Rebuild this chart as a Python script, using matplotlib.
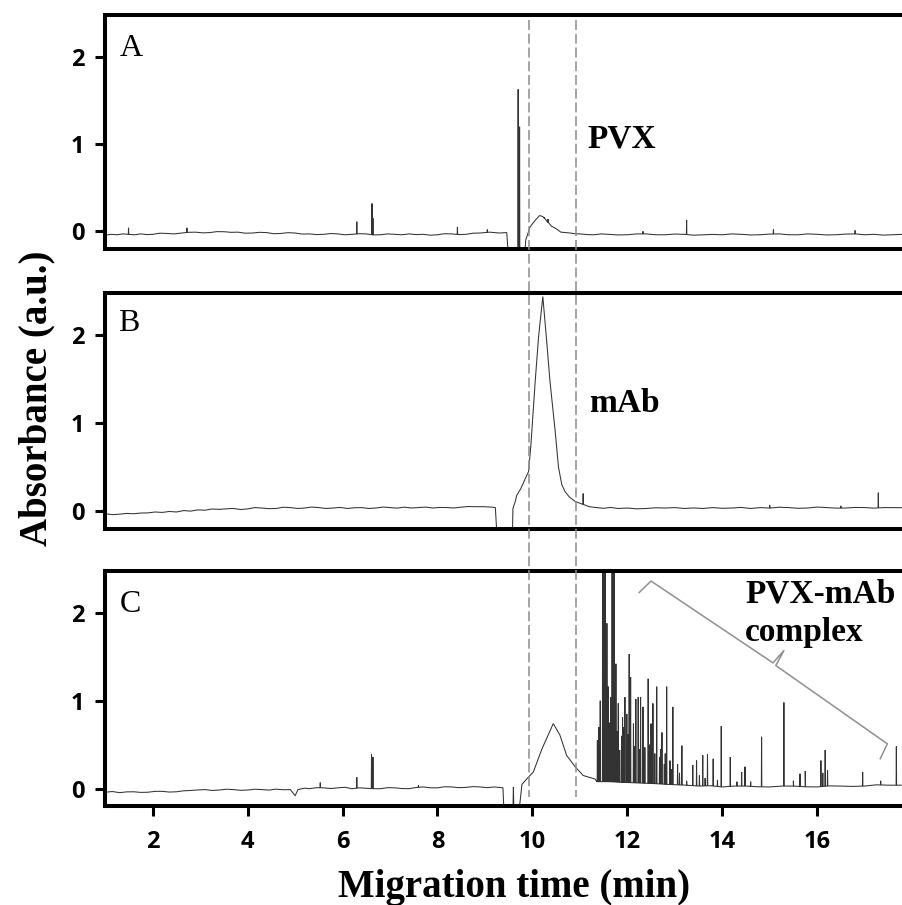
import matplotlib
matplotlib.use('Agg')
import matplotlib.pyplot as plt
import numpy as np
from matplotlib.lines import Line2D
from matplotlib.transforms import blended_transform_factory

# traces are (migration time in min, absorbance) pairs

# ---- panel A: PVX ----
pvx_trace = [
    (1.00, -0.045), (1.12, -0.035), (1.25, -0.040), (1.37, -0.030), (1.48, -0.035),
    (1.62, -0.040), (1.75, -0.030), (1.88, -0.038), (2.00, -0.035), (2.15, -0.022),
    (2.30, -0.025), (2.45, -0.030), (2.60, -0.020), (2.75, -0.012), (2.90, -0.010),
    (3.05, -0.018), (3.20, -0.015), (3.35, -0.004), (3.50, -0.005), (3.65, -0.012),
    (3.80, -0.010), (3.95, -0.022), (4.10, -0.020), (4.25, -0.012), (4.40, -0.015),
    (4.55, -0.028), (4.70, -0.025), (4.85, -0.016), (5.00, -0.020), (5.15, -0.032),
    (5.30, -0.030), (5.45, -0.038), (5.60, -0.035), (5.75, -0.026), (5.90, -0.030),
    (6.05, -0.040), (6.20, -0.035), (6.35, -0.028), (6.50, -0.030), (6.65, -0.042),
    (6.80, -0.040), (6.95, -0.030), (7.10, -0.035), (7.25, -0.040), (7.40, -0.030),
    (7.55, -0.038), (7.70, -0.035), (7.85, -0.045), (8.00, -0.040), (8.15, -0.028),
    (8.30, -0.030), (8.45, -0.038), (8.60, -0.035), (8.75, -0.022), (8.90, -0.020),
    (9.10, -0.010), (9.30, -0.020), (9.46, -0.015), (9.49, -0.250), (9.84, -0.250),
    (9.86, -0.100), (9.95, 0.050), (10.05, 0.120), (10.15, 0.180), (10.22, 0.170),
    (10.30, 0.120), (10.40, 0.060), (10.50, 0.030), (10.60, -0.010), (10.70, -0.015),
    (10.80, -0.020), (10.90, -0.028), (11.00, -0.030), (11.15, -0.038), (11.30, -0.040),
    (11.45, -0.030), (11.60, -0.035), (11.80, -0.042), (12.00, -0.040), (12.20, -0.030),
    (12.40, -0.030), (12.60, -0.040), (12.80, -0.040), (13.00, -0.032), (13.20, -0.035),
    (13.40, -0.045), (13.60, -0.040), (13.80, -0.036), (14.00, -0.040), (14.20, -0.030),
    (14.40, -0.035), (14.60, -0.042), (14.80, -0.040), (15.00, -0.032), (15.20, -0.030),
    (15.40, -0.040), (15.60, -0.040), (15.80, -0.030), (16.00, -0.035), (16.20, -0.042),
    (16.40, -0.040), (16.60, -0.032), (16.80, -0.030), (17.00, -0.040), (17.20, -0.035),
    (17.40, -0.044), (17.60, -0.040), (17.81, -0.035),
]
pvx_spikes = [
    (1.49, 0.04), (2.72, 0.04), (6.30, 0.11), (6.62, 0.32), (6.64, 0.15), (8.42, 0.05),
    (9.05, 0.02), (9.70, 1.63), (9.73, 1.20), (10.25, 0.16), (10.33, 0.14), (12.33, 0.00),
    (13.25, 0.13), (15.08, 0.02), (16.80, 0.01),
]

# ---- panel B: mAb ----
mab_trace = [
    (1.00, -0.030), (1.15, -0.040), (1.30, -0.035), (1.45, -0.026), (1.60, -0.030),
    (1.75, -0.022), (1.90, -0.020), (2.05, -0.010), (2.20, -0.015), (2.35, -0.004),
    (2.50, -0.010), (2.65, 0.006), (2.80, 0.000), (2.95, 0.014), (3.10, 0.010),
    (3.25, 0.024), (3.40, 0.020), (3.55, 0.026), (3.70, 0.030), (3.85, 0.018),
    (4.00, 0.025), (4.15, 0.040), (4.30, 0.035), (4.45, 0.028), (4.60, 0.030),
    (4.75, 0.044), (4.90, 0.040), (5.05, 0.030), (5.20, 0.035), (5.35, 0.046),
    (5.50, 0.040), (5.65, 0.030), (5.80, 0.035), (5.95, 0.042), (6.10, 0.030),
    (6.25, 0.038), (6.40, 0.040), (6.55, 0.030), (6.70, 0.035), (6.85, 0.046),
    (7.00, 0.040), (7.15, 0.034), (7.30, 0.045), (7.45, 0.036), (7.60, 0.040),
    (7.75, 0.046), (7.90, 0.035), (8.05, 0.042), (8.20, 0.040), (8.35, 0.036),
    (8.50, 0.045), (8.65, 0.052), (8.80, 0.050), (9.00, 0.050), (9.15, 0.045),
    (9.22, 0.040), (9.25, -0.250), (9.58, -0.250), (9.59, 0.030), (9.64, 0.110),
    (9.67, 0.180), (9.75, 0.250), (9.81, 0.320), (9.85, 0.370), (9.92, 0.450),
    (9.97, 0.760), (10.06, 1.480), (10.13, 1.980), (10.22, 2.440), (10.30, 1.940),
    (10.37, 1.480), (10.48, 0.910), (10.55, 0.500), (10.62, 0.300), (10.69, 0.220),
    (10.78, 0.160), (10.90, 0.110), (11.00, 0.090), (11.20, 0.050), (11.35, 0.040),
    (11.50, 0.032), (11.65, 0.042), (11.80, 0.030), (12.00, 0.035), (12.20, 0.026),
    (12.40, 0.030), (12.60, 0.038), (12.80, 0.035), (13.00, 0.040), (13.20, 0.030),
    (13.40, 0.036), (13.60, 0.030), (13.80, 0.040), (14.00, 0.032), (14.20, 0.035),
    (14.40, 0.042), (14.60, 0.030), (14.80, 0.040), (15.00, 0.035), (15.20, 0.044),
    (15.40, 0.040), (15.60, 0.032), (15.80, 0.035), (16.00, 0.046), (16.20, 0.040),
    (16.40, 0.034), (16.60, 0.035), (16.80, 0.042), (17.00, 0.040), (17.20, 0.034),
    (17.40, 0.040), (17.60, 0.040), (17.81, 0.038),
]
mab_spikes = [(11.07, 0.20), (15.00, 0.07), (16.50, 0.06), (17.29, 0.21)]

# ---- panel C: PVX-mAb complex ----
cpx_trace = [
    (1.00, -0.040), (1.15, -0.032), (1.30, -0.045), (1.45, -0.036), (1.60, -0.035),
    (1.75, -0.042), (1.90, -0.040), (2.05, -0.030), (2.20, -0.030), (2.35, -0.038),
    (2.50, -0.035), (2.65, -0.024), (2.80, -0.020), (2.95, -0.014), (3.10, -0.010),
    (3.25, -0.020), (3.40, -0.015), (3.55, -0.006), (3.70, -0.010), (3.85, -0.018),
    (4.00, -0.015), (4.15, -0.006), (4.30, -0.010), (4.45, -0.016), (4.60, -0.005),
    (4.75, -0.012), (4.90, -0.010), (5.00, -0.080), (5.06, -0.010), (5.20, 0.006),
    (5.30, 0.000), (5.45, 0.012), (5.60, 0.010), (5.75, 0.002), (5.90, 0.010),
    (6.05, 0.016), (6.20, 0.000), (6.35, 0.010), (6.50, 0.005), (6.65, 0.000),
    (6.80, 0.000), (6.95, 0.012), (7.10, 0.010), (7.25, 0.002), (7.40, 0.000),
    (7.55, 0.014), (7.70, 0.020), (7.85, 0.010), (8.00, 0.010), (8.15, 0.022),
    (8.30, 0.020), (8.45, 0.012), (8.60, 0.015), (8.75, 0.024), (8.90, 0.020),
    (9.05, 0.012), (9.20, 0.020), (9.38, 0.010), (9.40, -0.250), (9.59, -0.250),
    (9.60, 0.020), (9.61, -0.250), (9.72, -0.250), (9.78, 0.050), (9.88, 0.110),
    (10.02, 0.190), (10.20, 0.450), (10.44, 0.740), (10.58, 0.610), (10.72, 0.380),
    (10.90, 0.250), (11.07, 0.150), (11.32, 0.110), (11.36, 0.080), (11.60, 0.080),
    (12.00, 0.070), (12.50, 0.060), (13.00, 0.045), (13.25, 0.040), (13.50, 0.030),
    (13.75, 0.034), (14.00, 0.020), (14.25, 0.030), (14.50, 0.030), (14.75, 0.022),
    (15.00, 0.020), (15.25, 0.030), (15.50, 0.030), (15.75, 0.022), (16.00, 0.020),
    (16.25, 0.032), (16.50, 0.030), (16.75, 0.026), (17.00, 0.030), (17.25, 0.044),
    (17.50, 0.040), (17.81, 0.040),
]
cpx_spikes = [
    (5.53, 0.07), (6.30, 0.13), (6.61, 0.39), (6.64, 0.36), (7.60, 0.04),
    (11.37, 0.55), (11.40, 0.70), (11.43, 1.00), (11.48, 2.70), (11.50, 2.70),
    (11.53, 2.70), (11.55, 0.90), (11.57, 1.88), (11.60, 1.16), (11.63, 0.75),
    (11.65, 1.04), (11.68, 2.70), (11.70, 2.70), (11.72, 2.70), (11.76, 1.42),
    (11.79, 0.65), (11.81, 0.97), (11.84, 0.44), (11.88, 0.60), (11.90, 0.81),
    (11.92, 0.70), (11.95, 1.04), (11.99, 0.85), (12.01, 0.62), (12.04, 1.53),
    (12.07, 1.27), (12.13, 0.74), (12.15, 0.48), (12.18, 1.02), (12.23, 1.04),
    (12.26, 0.45), (12.28, 1.04), (12.33, 0.93), (12.35, 0.40), (12.37, 0.47),
    (12.44, 1.25), (12.47, 0.50), (12.50, 0.74), (12.54, 0.97), (12.58, 0.40),
    (12.62, 1.16), (12.68, 0.36), (12.70, 0.45), (12.73, 0.64), (12.78, 0.28),
    (12.80, 0.40), (12.83, 1.16), (12.90, 0.32), (12.93, 0.22), (12.96, 0.93),
    (13.06, 0.28), (13.10, 0.18), (13.15, 0.49), (13.25, 0.09), (13.38, 0.27),
    (13.46, 0.32), (13.52, 0.15), (13.59, 0.38), (13.64, 0.12), (13.69, 0.39),
    (13.81, 0.34), (13.90, 0.10), (13.98, 0.71), (14.17, 0.36), (14.31, 0.08),
    (14.41, 0.19), (14.48, 0.25), (14.60, 0.08), (14.83, 0.59), (15.30, 0.98),
    (15.50, 0.09), (15.64, 0.17), (15.75, 0.20), (16.08, 0.32), (16.12, 0.18),
    (16.17, 0.44), (16.22, 0.21), (16.96, 0.19), (17.34, 0.09), (17.67, 0.48),
]

# brace next to the complex peaks (panel C data units)
brace_t = [12.25, 12.50, 15.07, 15.30, 15.13, 17.48, 17.33]
brace_abs = [2.23, 2.36, 1.43, 1.57, 1.40, 0.51, 0.34]

window_t = [9.93, 10.91]
panel_letters = ['A', 'B', 'C']
ytick_vals = [0, 1, 2]
xtick_vals = [2, 4, 6, 8, 10, 12, 14, 16]

serif = 'Liberation Serif'
sans = 'Open Sans'
line_col = '#333333'


def add_spikes(trace, spikes, w=0.005):
    # narrow spikes standing on the trace
    t, a = (np.array(v, float) for v in zip(*trace))
    xs, ys = list(t), list(a)
    for s, h in spikes:
        base = np.interp(s, t, a)
        xs += [s - w, s, s + w]
        ys += [base, h, base]
    order = np.argsort(xs, kind='stable')
    return np.array(xs)[order], np.array(ys)[order]


fig = plt.figure(figsize=(9.03, 9.05), dpi=100)
W, H = 903, 905
left = 105.3 / W
boxes = [(15.3, 248.7), (293.0, 528.7), (570.5, 806.3)]
axes = []
for top, bot in boxes:
    ax = fig.add_axes([left, 1 - bot / H, 1 - left, (bot - top) / H])
    axes.append(ax)

traces = [(pvx_trace, pvx_spikes), (mab_trace, mab_spikes), (cpx_trace, cpx_spikes)]
letter_pos = [(1.31, 2.01), (1.27, 2.05), (1.30, 2.01)]

for i, (ax, tr) in enumerate(zip(axes, traces)):
    x, y = add_spikes(*tr)
    ax.plot(x, y, color=line_col, lw=0.75, solid_joinstyle='miter')
    ax.set_xlim(1.0, 17.81)
    ax.set_ylim(-0.2, 2.48)
    for side in ['left', 'top', 'bottom']:
        ax.spines[side].set_linewidth(2.9)
    ax.spines['right'].set_visible(False)
    ax.set_yticks(ytick_vals)
    ax.tick_params(axis='y', length=7, width=2.2, pad=8, direction='out')
    for lab in ax.get_yticklabels():
        lab.set_fontfamily(sans)
        lab.set_fontweight('bold')
        lab.set_fontsize(17)
    if i < 2:
        ax.set_xticks([])
    else:
        ax.set_xticks(xtick_vals)
        ax.tick_params(axis='x', length=7, width=2.2, pad=10, direction='out')
        for lab in ax.get_xticklabels():
            lab.set_fontfamily(sans)
            lab.set_fontweight('bold')
            lab.set_fontsize(17)
    lx, ly = letter_pos[i]
    ax.text(lx, ly, panel_letters[i], family=serif, fontsize=23, va='baseline')

axes[0].text(11.15, 0.96, 'PVX', family=serif, fontweight='bold', fontsize=24,
             va='baseline')
axes[1].text(11.20, 1.13, 'mAb', family=serif, fontweight='bold', fontsize=24,
             va='baseline')
axes[2].text(14.48, 2.12, 'PVX-mAb', family=serif, fontweight='bold', fontsize=24,
             va='baseline')
axes[2].text(14.48, 1.68, 'complex', family=serif, fontweight='bold', fontsize=24,
             va='baseline')
axes[2].plot(brace_t, brace_abs, color='#8f8f8f', lw=1.1, clip_on=False)

# migration window markers crossing all three panels
trans = blended_transform_factory(axes[2].transData, fig.transFigure)
for wt in window_t:
    fig.add_artist(Line2D([wt, wt], [1 - 20 / H, 1 - 797 / H], transform=trans,
                          color='#8c8c8c', lw=1.1, linestyle=(0, (6.5, 2.5))))

fig.text(37 / W, 1 - 398 / H, 'Absorbance (a.u.)', family=serif, fontweight='bold',
         fontsize=28, rotation=90, ha='center', va='center')
fig.text(514 / W, 8 / H, 'Migration time (min)', family=serif, fontweight='bold',
         fontsize=28, ha='center', va='baseline')

fig.savefig('out.png', dpi=100, facecolor='white')
